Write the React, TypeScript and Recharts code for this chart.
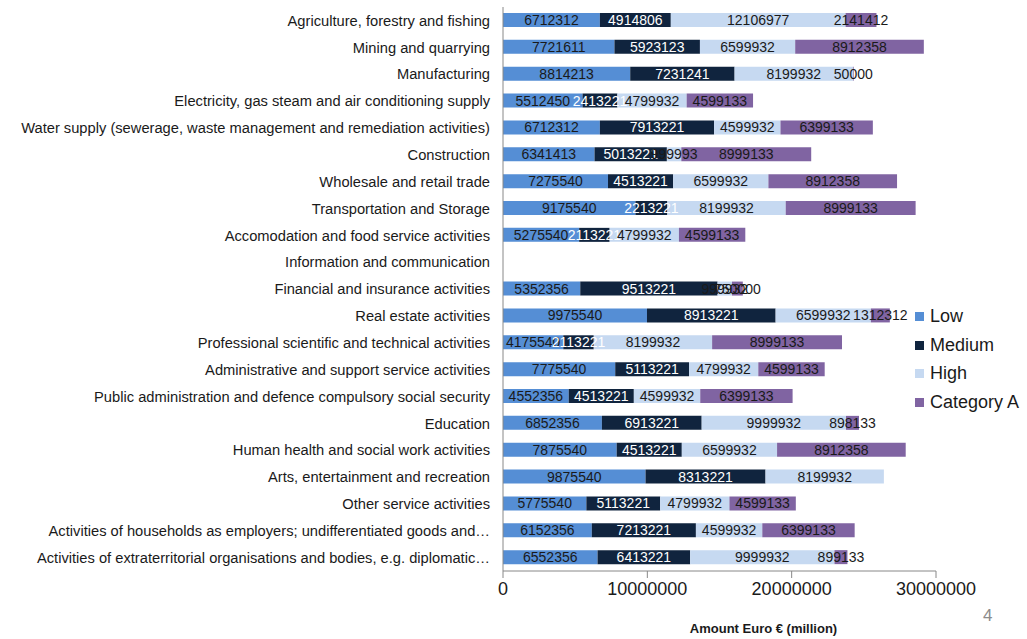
import {
  BarChart,
  Bar,
  XAxis,
  YAxis,
  LabelList,
} from 'recharts';

const sectors = [
  'Agriculture, forestry and fishing',
  'Mining and quarrying',
  'Manufacturing',
  'Electricity, gas steam and air conditioning supply',
  'Water supply (sewerage, waste management and remediation activities)',
  'Construction',
  'Wholesale and retail trade',
  'Transportation and Storage',
  'Accomodation and food service activities',
  'Information and communication',
  'Financial and insurance activities',
  'Real estate activities',
  'Professional scientific and technical activities',
  'Administrative and support service activities',
  'Public administration and defence compulsory social security',
  'Education',
  'Human health and social work activities',
  'Arts, entertainment and recreation',
  'Other service activities',
  'Activities of households as employers; undifferentiated goods and…',
  'Activities of extraterritorial organisations and bodies, e.g. diplomatic…',
];

const low = [
  6712312, 7721611, 8814213, 5512450, 6712312, 6341413, 7275540, 9175540, 5275540, null,
  5352356, 9975540, 4175540, 7775540, 4552356, 6852356, 7875540, 9875540, 5775540, 6152356, 6552356,
];
const medium = [
  4914806, 5923123, 7231241, 2413221, 7913221, 5013221, 4513221, 2213221, 2113221, null,
  9513221, 8913221, 2113221, 5113221, 4513221, 6913221, 4513221, 8313221, 5113221, 7213221, 6413221,
];
const high = [
  12106977, 6599932, 8199932, 4799932, 4599932, 999993, 6599932, 8199932, 4799932, null,
  999932, 6599932, 8199932, 4799932, 4599932, 9999932, 6599932, 8199932, 4799932, 4599932, 9999932,
];
const categoryA = [
  2141412, 8912358, 50000, 4599133, 6399133, 8999133, 8912358, 8999133, 4599133, null,
  750000, 1312312, 8999133, 4599133, 6399133, 898133, 8912358, null, 4599133, 6399133, 899133,
];

const xTicks = [0, 10000000, 20000000, 30000000];

const series = [
  { key: 'low', name: 'Low', color: '#558ED5', text: '#1a1a1a' },
  { key: 'medium', name: 'Medium', color: '#10243E', text: '#ffffff' },
  { key: 'high', name: 'High', color: '#C6D9F1', text: '#1a1a1a' },
  { key: 'catA', name: 'Category A', color: '#8064A2', text: '#1a1a1a' },
];

const data = sectors.map((name, i) => ({
  name,
  low: low[i],
  medium: medium[i],
  high: high[i],
  catA: categoryA[i],
}));

const font = '"Liberation Sans", Arial, sans-serif';

export default function App() {
  return (
    <div
      style={{
        position: 'absolute',
        left: 0,
        top: 0,
        width: 1027,
        height: 639,
        background: '#fff',
        fontFamily: font,
        overflow: 'hidden',
      }}
    >
      <BarChart
        width={1027}
        height={639}
        data={data}
        layout="vertical"
        barSize={14}
        margin={{ top: 7, right: 91, bottom: 38, left: 0 }}
      >
        <XAxis
          type="number"
          domain={[0, 30000000]}
          ticks={xTicks}
          interval={0}
          height={30}
          tickSize={7}
          tickMargin={4}
          stroke="#888"
          tick={{ fill: '#1a1a1a', fontSize: 18, fontFamily: font }}
        />
        <YAxis
          type="category"
          dataKey="name"
          width={503}
          interval={0}
          tickLine={false}
          tickSize={0}
          tickMargin={13}
          stroke="#888"
          tick={{ fill: '#1a1a1a', fontSize: 14.7, fontFamily: font }}
        />
        {series.map((s) => (
          <Bar
            key={s.key}
            dataKey={s.key}
            name={s.name}
            stackId="a"
            fill={s.color}
            isAnimationActive={false}
          >
            <LabelList
              dataKey={s.key}
              position="center"
              fill={s.text}
              fontSize={14}
              fontFamily={font}
            />
          </Bar>
        ))}
      </BarChart>
      <div
        style={{
          position: 'absolute',
          left: 915,
          top: 302,
          fontSize: 18,
          color: '#1a1a1a',
        }}
      >
        {series.map((s) => (
          <div
            key={s.key}
            style={{ display: 'flex', alignItems: 'center', height: 28.7 }}
          >
            <span
              style={{
                display: 'inline-block',
                width: 9,
                height: 9,
                background: s.color,
                marginRight: 6,
              }}
            />
            {s.name}
          </div>
        ))}
      </div>
      <div
        style={{
          position: 'absolute',
          left: 0,
          width: 1527,
          top: 621,
          textAlign: 'center',
          fontWeight: 'bold',
          fontSize: 13,
          lineHeight: '16px',
          color: '#1a1a1a',
        }}
      >
        Amount Euro € (million)
      </div>
      <div
        style={{
          position: 'absolute',
          left: 983,
          top: 606,
          fontSize: 17,
          lineHeight: '20px',
          color: '#8c8c8c',
        }}
      >
        4
      </div>
    </div>
  );
}
